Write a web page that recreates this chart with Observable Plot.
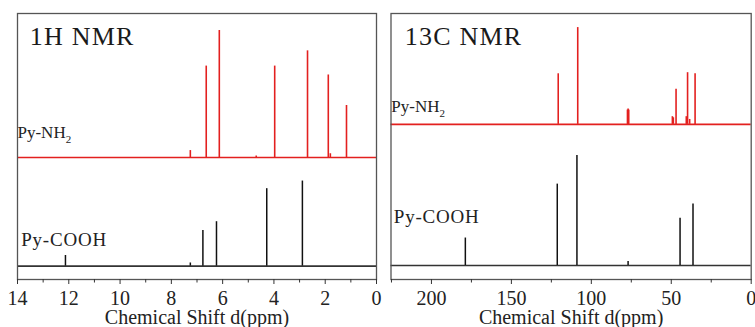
<!DOCTYPE html>
<html>
<head>
<meta charset="utf-8">
<script src="https://cdn.jsdelivr.net/npm/d3@7"></script>
<script src="https://cdn.jsdelivr.net/npm/@observablehq/plot@0.6"></script>
<style>
  html, body { margin: 0; padding: 0; background: #fff; }
  #wrap { position: relative; width: 755px; height: 327px; overflow: hidden; }
  #left, #right { position: absolute; top: 0; }
  #left { left: 0; }
  #right { left: 378px; }
  #wrap svg { overflow: visible; }
</style>
</head>
<body>
<div id="wrap"><div id="left"></div><div id="right"></div></div>
<script>
// ---- 1H NMR data (chemical shift in ppm, relative intensity) ----
const h1NH2Shifts = [7.26, 6.64, 6.13, 4.69, 3.97, 2.69, 1.88, 1.80, 1.17];
const h1NH2Ints   = [0.055, 0.72, 1.0, 0.012, 0.72, 0.84, 0.65, 0.03, 0.41];
const h1COOHShifts = [12.13, 7.26, 6.77, 6.24, 4.28, 2.89];
const h1COOHInts   = [0.084, 0.025, 0.28, 0.35, 0.61, 0.67];
const h1MajorTicks = [14, 12, 10, 8, 6, 4, 2, 0];
const h1MinorTicks = [13, 11, 9, 7, 5, 3, 1];

// ---- 13C NMR data ----
const c13NH2Shifts = [120.7, 108.5, 77.4, 77.0, 76.6, 49.3, 48.7, 47.0, 40.6, 39.8, 38.5, 35.1];
const c13NH2Ints   = [0.46, 0.88, 0.13, 0.14, 0.13, 0.07, 0.06, 0.32, 0.07, 0.47, 0.045, 0.46];
const c13COOHShifts = [178.8, 121.3, 109.0, 77.0, 44.5, 36.4];
const c13COOHInts   = [0.25, 0.74, 1.0, 0.036, 0.43, 0.56];
const c13MajorTicks = [200, 150, 100, 50, 0];
const c13MinorTicks = [225, 175, 125, 75, 25];

// vertical stacking of the two spectra in each panel
const h1Offsets = {nh2: 0.96, cooh: 0.105, top: 2.094};
const c13Offsets = {nh2: 1.41, cooh: 0.127, top: 2.418};

const RED = "#e3201f";
const BLACK = "#111";
const FONT = "'Liberation Serif', 'Times New Roman', serif";

function peaks(shifts, ints) {
  return shifts.map((s, i) => ({shift: s, int: ints[i]}));
}

function panel(opts) {
  const nh2 = peaks(opts.nh2Shifts, opts.nh2Ints);
  const cooh = peaks(opts.coohShifts, opts.coohInts);
  const off = opts.offsets;
  const svg = Plot.plot({
    width: opts.width,
    height: 327,
    marginLeft: opts.marginLeft,
    marginRight: opts.marginRight,
    marginTop: 13,
    marginBottom: 48,
    style: {fontFamily: FONT, fontSize: "20px", color: "#222", background: "transparent", overflow: "visible"},
    x: {domain: opts.xDomain, axis: null},
    y: {domain: [0, off.top], axis: null},
    marks: [
      Plot.ruleY([off.nh2], {stroke: RED, strokeWidth: 1.6}),
      Plot.ruleY([off.cooh], {stroke: "#333", strokeWidth: 1.6}),
      Plot.ruleX(nh2, {x: "shift", y1: off.nh2, y2: d => off.nh2 + d.int, stroke: RED, strokeWidth: 1.6}),
      Plot.ruleX(cooh, {x: "shift", y1: off.cooh, y2: d => off.cooh + d.int, stroke: BLACK, strokeWidth: 1.5}),
      Plot.frame({stroke: "#555", strokeWidth: 1.3}),
      Plot.axisX({ticks: opts.minor, tickSize: 3.5, tickFormat: () => "", label: null, stroke: "#333"}),
      Plot.axisX({ticks: opts.major, tickSize: 5, tickPadding: 6, tickFormat: d => String(d),
        label: "Chemical Shift d(ppm)", labelAnchor: "center", labelOffset: 44, labelArrow: "none",
        stroke: "#333", fill: "#222", fontSize: 20}),
      Plot.text([opts.title], {frameAnchor: "top-left", textAnchor: "start", lineAnchor: "top",
        dx: opts.titleDx, dy: 13.5, fontSize: 26, fill: "#1a1a1a", fontFamily: FONT}),
      Plot.text(["Py-NH2"], {frameAnchor: "top-left", textAnchor: "start", lineAnchor: "top",
        dx: opts.nh2Dx, dy: opts.nh2Dy, fontSize: 17, fill: "#222", fontFamily: FONT}),
      Plot.text(["Py-COOH"], {frameAnchor: "top-left", textAnchor: "start", lineAnchor: "top",
        dx: opts.coohDx, dy: opts.coohDy, fontSize: 19, fill: "#222", fontFamily: FONT})
    ]
  });
  // subscript for NH2
  d3.select(svg).selectAll("text").filter(function() { return this.textContent === "Py-NH2"; })
    .each(function() {
      const t = d3.select(this);
      t.text(null);
      t.append("tspan").text("Py-NH");
      t.append("tspan").attr("font-size", 11).attr("dy", "0.45em").text("2");
    });
  d3.select(svg).selectAll("text").filter(function() { return this.textContent === opts.title; })
    .style("letter-spacing", "1.2px");
  d3.select(svg).selectAll("text").filter(function() { return this.textContent === "Py-COOH"; })
    .style("letter-spacing", "0.8px");
  return svg;
}

document.getElementById("left").append(panel({
  width: 378, marginLeft: 17, marginRight: 2, xDomain: [14, 0],
  nh2Shifts: h1NH2Shifts, nh2Ints: h1NH2Ints, coohShifts: h1COOHShifts, coohInts: h1COOHInts,
  offsets: h1Offsets, major: h1MajorTicks, minor: h1MinorTicks,
  title: "1H NMR", titleDx: 12.3, nh2Dx: 0, nh2Dy: 112, coohDx: 3.7, coohDy: 218.5
}));

document.getElementById("right").append(panel({
  width: 377, marginLeft: 12.5, marginRight: 4.3, xDomain: [225.3, 0],
  nh2Shifts: c13NH2Shifts, nh2Ints: c13NH2Ints, coohShifts: c13COOHShifts, coohInts: c13COOHInts,
  offsets: c13Offsets, major: c13MajorTicks, minor: c13MinorTicks,
  title: "13C NMR", titleDx: 13.8, nh2Dx: 0.3, nh2Dy: 86.6, coohDx: 2.8, coohDy: 195.8
}));
</script>
</body>
</html>
